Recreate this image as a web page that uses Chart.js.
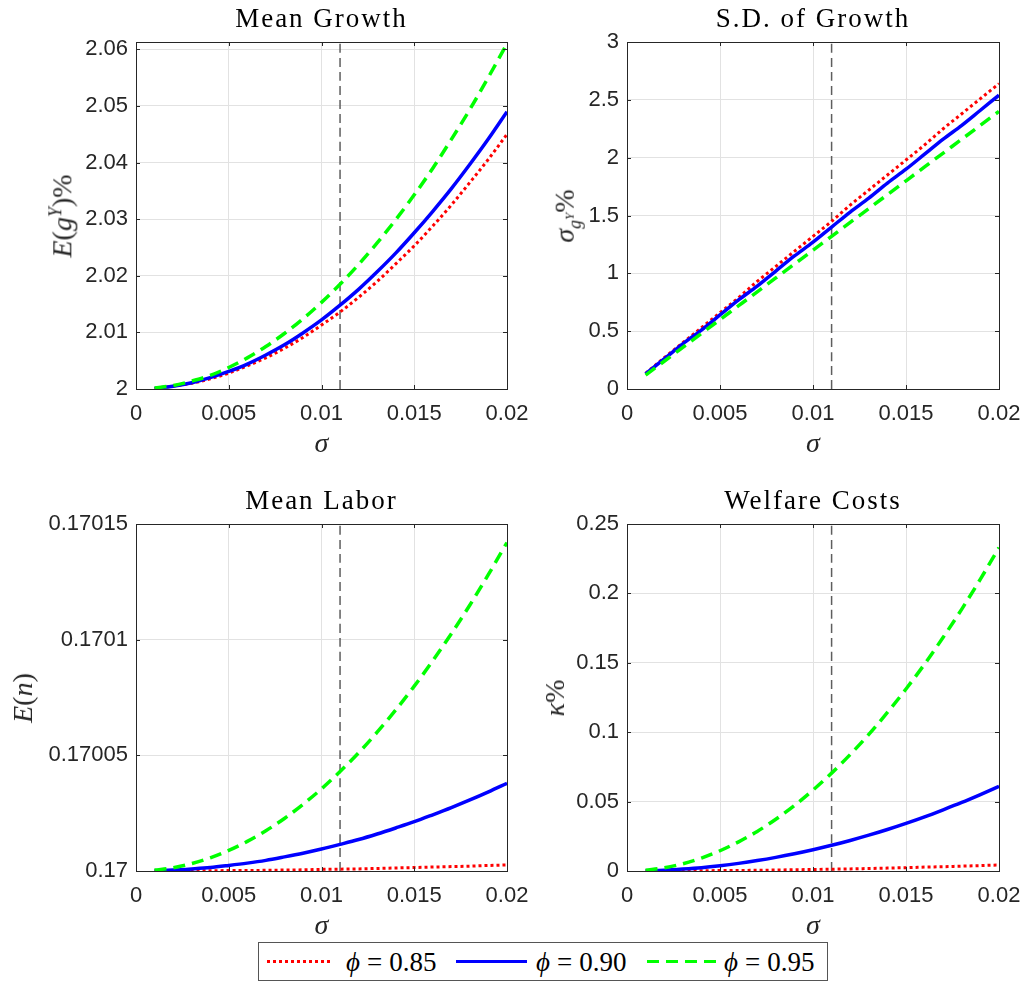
<!DOCTYPE html>
<html>
<head>
<meta charset="utf-8">
<script src="https://cdn.jsdelivr.net/npm/chart.js@4.4.0/dist/chart.umd.min.js"></script>
<style>
    body { margin: 0; background: #fff; width: 1025px; height: 983px; position: relative; overflow: hidden; }
    canvas { position: absolute; }
    .title { position: absolute; font-family: 'Liberation Serif', serif; font-size: 27px; letter-spacing: 2px;
             line-height: 30px; white-space: nowrap; transform: translateX(-50%); color: #000; }
    .xlab, .ylab { position: absolute; font-family: 'Liberation Serif', serif; white-space: nowrap; color: #262626; }
    .xlab { font-size: 28px; font-style: italic; transform: translate(-50%, -50%); }
    .ylab { font-size: 28px; transform: translate(-50%, -50%) rotate(-90deg); }
    .ylab sup, .ylab sub { font-size: 18px; }
    .ylab sub sup { font-size: 13px; }
    #legend { position: absolute; left: 258px; top: 942px; width: 568px; height: 37px; border: 1px solid #555; background: #fff; }
    .sample { position: absolute; height: 3px; top: 17px; }
    .ltext { position: absolute; top: 2px; font-family: 'Liberation Serif', serif; font-size: 27px; line-height: 34px; white-space: nowrap; }
    .ltext .eq { margin: 0 7px; }
</style>
</head>
<body>
<script>
// sigma grid (x axis) and calibrated sigma
const sigma = [0.001, 0.002, 0.003, 0.004, 0.005, 0.006, 0.007, 0.008, 0.009, 0.010,
               0.011, 0.012, 0.013, 0.014, 0.015, 0.016, 0.017, 0.018, 0.019, 0.020];
const sigmaMark = 0.011;

// Mean Growth, E(g^Y)%
const meanGrowth085 = [2.0001, 2.0005, 2.0010, 2.0018, 2.0028, 2.0041, 2.0055, 2.0072, 2.0091, 2.0113,
                       2.0136, 2.0162, 2.0190, 2.0221, 2.0253, 2.0288, 2.0325, 2.0365, 2.0406, 2.0450];
const meanGrowth090 = [2.0001, 2.0005, 2.0011, 2.0020, 2.0031, 2.0044, 2.0060, 2.0078, 2.0099, 2.0122,
                       2.0148, 2.0176, 2.0207, 2.0240, 2.0276, 2.0314, 2.0354, 2.0397, 2.0442, 2.0490];
const meanGrowth095 = [2.0002, 2.0006, 2.0014, 2.0024, 2.0038, 2.0055, 2.0075, 2.0098, 2.0124, 2.0153,
                       2.0185, 2.0220, 2.0258, 2.0299, 2.0343, 2.0390, 2.0441, 2.0494, 2.0551, 2.0610];

// S.D. of Growth
const sdGrowth085 = [0.135, 0.27, 0.40, 0.53, 0.66, 0.79, 0.93, 1.06, 1.19, 1.32,
                     1.45, 1.59, 1.72, 1.85, 1.98, 2.11, 2.25, 2.38, 2.51, 2.64];
const sdGrowth090 = [0.13, 0.26, 0.39, 0.51, 0.64, 0.77, 0.89, 1.02, 1.15, 1.27,
                     1.40, 1.53, 1.65, 1.78, 1.90, 2.03, 2.16, 2.28, 2.41, 2.54];
const sdGrowth095 = [0.12, 0.24, 0.36, 0.48, 0.60, 0.72, 0.84, 0.96, 1.08, 1.20,
                     1.32, 1.44, 1.56, 1.68, 1.80, 1.92, 2.04, 2.16, 2.28, 2.40];

// Mean Labor, E(n)
const meanLabor085 = [0.1700000, 0.1700000, 0.1700001, 0.1700001, 0.1700002, 0.1700002, 0.1700003, 0.1700004, 0.1700005, 0.1700007,
                      0.1700008, 0.1700009, 0.1700011, 0.1700013, 0.1700015, 0.1700017, 0.1700019, 0.1700021, 0.1700024, 0.1700026];
const meanLabor090 = [0.1700001, 0.1700004, 0.1700009, 0.1700015, 0.1700024, 0.1700034, 0.1700046, 0.1700061, 0.1700077, 0.1700095,
                      0.1700115, 0.1700136, 0.1700160, 0.1700186, 0.1700213, 0.1700243, 0.1700274, 0.1700307, 0.1700342, 0.1700379];
const meanLabor095 = [0.1700004, 0.1700014, 0.1700032, 0.1700057, 0.1700089, 0.1700128, 0.1700174, 0.1700227, 0.1700288, 0.1700355,
                      0.1700430, 0.1700511, 0.1700600, 0.1700696, 0.1700799, 0.1700909, 0.1701026, 0.1701150, 0.1701282, 0.1701420];

// Welfare Costs, kappa%
const welfare085 = [0.0000, 0.0000, 0.0001, 0.0002, 0.0003, 0.0004, 0.0005, 0.0007, 0.0009, 0.0011,
                    0.0013, 0.0015, 0.0018, 0.0021, 0.0024, 0.0028, 0.0031, 0.0035, 0.0039, 0.0043];
const welfare090 = [0.0002, 0.0006, 0.0014, 0.0024, 0.0038, 0.0055, 0.0075, 0.0098, 0.0124, 0.0153,
                    0.0185, 0.0220, 0.0258, 0.0299, 0.0343, 0.0390, 0.0441, 0.0494, 0.0551, 0.0610];
const welfare095 = [0.0006, 0.0023, 0.0052, 0.0093, 0.0146, 0.0210, 0.0285, 0.0373, 0.0472, 0.0583,
                    0.0705, 0.0839, 0.0984, 0.1142, 0.1311, 0.1491, 0.1684, 0.1887, 0.2103, 0.2330];

// tick values and labels
const xTicks = [0, 0.005, 0.01, 0.015, 0.02];
const xTickLabels = ['0', '0.005', '0.01', '0.015', '0.02'];
const growthTicks = [2, 2.01, 2.02, 2.03, 2.04, 2.05, 2.06];
const growthTickLabels = ['2', '2.01', '2.02', '2.03', '2.04', '2.05', '2.06'];
const sdTicks = [0, 0.5, 1, 1.5, 2, 2.5, 3];
const sdTickLabels = ['0', '0.5', '1', '1.5', '2', '2.5', '3'];
const laborTicks = [0.17, 0.17005, 0.1701, 0.17015];
const laborTickLabels = ['0.17', '0.17005', '0.1701', '0.17015'];
const welfareTicks = [0, 0.05, 0.1, 0.15, 0.2, 0.25];
const welfareTickLabels = ['0', '0.05', '0.1', '0.15', '0.2', '0.25'];

const phiValues = ['0.85', '0.90', '0.95'];

const PAD_L = 130, PAD_R = 40, PAD_T = 22, PAD_B = 46;
const INK = '#262626';

const panels = [
    { left: 136, top: 42, w: 371, h: 347, title: 'Mean Growth', yMin: 2, yMax: 2.0613,
      ticks: growthTicks, tickLabels: growthTickLabels, data: [meanGrowth085, meanGrowth090, meanGrowth095],
      ylab: '<i>E</i>(<i>g</i><sup><i>Y</i></sup>)%', ylabX: 62 },
    { left: 627, top: 42, w: 372, h: 347, title: 'S.D. of Growth', yMin: 0, yMax: 3,
      ticks: sdTicks, tickLabels: sdTickLabels, data: [sdGrowth085, sdGrowth090, sdGrowth095],
      ylab: '<i>\u03c3</i><sub><i>g</i><sup><i>Y</i></sup></sub>%', ylabX: 567 },
    { left: 136, top: 524, w: 371, h: 347, title: 'Mean Labor', yMin: 0.17, yMax: 0.17015,
      ticks: laborTicks, tickLabels: laborTickLabels, data: [meanLabor085, meanLabor090, meanLabor095],
      ylab: '<i>E</i>(<i>n</i>)', ylabX: 23 },
    { left: 627, top: 524, w: 372, h: 347, title: 'Welfare Costs', yMin: 0, yMax: 0.25,
      ticks: welfareTicks, tickLabels: welfareTickLabels, data: [welfare085, welfare090, welfare095],
      ylab: '<i>\u03ba</i>%', ylabX: 555 }
];

// box around the axes with inward ticks, like the MATLAB default
const axesBox = {
    id: 'axesBox',
    afterDatasetsDraw(chart) {
        const { ctx, chartArea: a, scales: { x, y } } = chart;
        ctx.save();
        ctx.strokeStyle = INK;
        ctx.lineWidth = 1;
        ctx.beginPath();
        x.ticks.forEach(t => {
            const px = Math.round(x.getPixelForValue(t.value)) + 0.5;
            ctx.moveTo(px, a.bottom); ctx.lineTo(px, a.bottom - 4);
            ctx.moveTo(px, a.top); ctx.lineTo(px, a.top + 4);
        });
        y.ticks.forEach(t => {
            const py = Math.round(y.getPixelForValue(t.value)) + 0.5;
            ctx.moveTo(a.left, py); ctx.lineTo(a.left + 4, py);
            ctx.moveTo(a.right, py); ctx.lineTo(a.right - 4, py);
        });
        ctx.stroke();
        ctx.strokeRect(Math.round(a.left) + 0.5, Math.round(a.top) + 0.5, Math.round(a.width), Math.round(a.height));
        ctx.restore();
    }
};

function addDiv(cls, html, left, top) {
    const d = document.createElement('div');
    d.className = cls;
    d.innerHTML = html;
    d.style.left = left + 'px';
    d.style.top = top + 'px';
    document.body.appendChild(d);
    return d;
}

function makePanel(p) {
    const c = document.createElement('canvas');
    c.width = p.w + PAD_L + PAD_R;
    c.height = p.h + PAD_T + PAD_B;
    c.style.left = (p.left - PAD_L) + 'px';
    c.style.top = (p.top - PAD_T) + 'px';
    document.body.appendChild(c);

    const pts = vals => sigma.map((s, i) => ({ x: s, y: vals[i] }));
    new Chart(c, {
        type: 'line',
        data: {
            datasets: [{
                label: 'phi = ' + phiValues[2],
                data: pts(p.data[2]),
                borderColor: '#00ff00',
                borderWidth: 3.5,
                borderDash: [12, 7],
                order: 0
            }, {
                label: 'phi = ' + phiValues[1],
                data: pts(p.data[1]),
                borderColor: '#0000ff',
                borderWidth: 3.5,
                order: 1
            }, {
                label: 'phi = ' + phiValues[0],
                data: pts(p.data[0]),
                borderColor: '#ff0000',
                borderWidth: 3,
                borderDash: [3, 3],
                order: 2
            }, {
                label: 'calibration',
                data: [{ x: sigmaMark, y: p.yMin }, { x: sigmaMark, y: p.yMax }],
                borderColor: '#5e5e5e',
                borderWidth: 1.5,
                borderDash: [9, 5],
                order: 3
            }]
        },
        options: {
            responsive: false,
            animation: false,
            events: [],
            layout: { padding: { left: 0, right: PAD_R, top: PAD_T, bottom: 0 } },
            elements: {
                point: { radius: 0 },
                line: { cubicInterpolationMode: 'monotone', borderCapStyle: 'butt' }
            },
            plugins: { legend: { display: false }, tooltip: { enabled: false } },
            scales: {
                x: {
                    type: 'linear',
                    min: 0,
                    max: 0.02,
                    afterFit: s => { s.height = PAD_B; },
                    afterBuildTicks: s => { s.ticks = xTicks.map(v => ({ value: v })); },
                    grid: { color: '#e2e2e2', drawTicks: false },
                    border: { display: false },
                    ticks: {
                        padding: 12,
                        maxRotation: 0,
                        autoSkip: false,
                        color: INK,
                        font: { family: 'Liberation Sans', size: 22 },
                        callback: (v, i) => xTickLabels[i]
                    }
                },
                y: {
                    type: 'linear',
                    min: p.yMin,
                    max: p.yMax,
                    afterFit: s => { s.width = PAD_L; },
                    afterBuildTicks: s => { s.ticks = p.ticks.map(v => ({ value: v })); },
                    grid: { color: '#e2e2e2', drawTicks: false },
                    border: { display: false },
                    ticks: {
                        padding: 8,
                        autoSkip: false,
                        color: INK,
                        font: { family: 'Liberation Sans', size: 22 },
                        callback: (v, i) => p.tickLabels[i]
                    }
                }
            }
        },
        plugins: [axesBox]
    });

    const cx = p.left + p.w / 2;
    addDiv('title', p.title, cx, p.top - 39);
    addDiv('xlab', '\u03c3', cx, p.top + p.h + 54);
    addDiv('ylab', p.ylab, p.ylabX, p.top + p.h / 2);
}

panels.forEach(makePanel);

// shared legend
const legend = document.createElement('div');
legend.id = 'legend';
document.body.appendChild(legend);
const samples = [
    { left: 8, width: 66, bg: 'repeating-linear-gradient(90deg, #ff0000 0 3px, transparent 3px 6px)' },
    { left: 197, width: 71, bg: '#0000ff' },
    { left: 388, width: 71, bg: 'repeating-linear-gradient(90deg, #00ff00 0 12px, transparent 12px 19px)' }
];
const textLeft = [87, 277, 465];
samples.forEach((s, i) => {
    const d = document.createElement('div');
    d.className = 'sample';
    d.style.left = s.left + 'px';
    d.style.width = s.width + 'px';
    d.style.background = s.bg;
    legend.appendChild(d);
    const t = document.createElement('div');
    t.className = 'ltext';
    t.style.left = textLeft[i] + 'px';
    t.innerHTML = '<i>\u03d5</i><span class="eq">=</span>' + phiValues[i];
    legend.appendChild(t);
});
</script>
</body>
</html>
